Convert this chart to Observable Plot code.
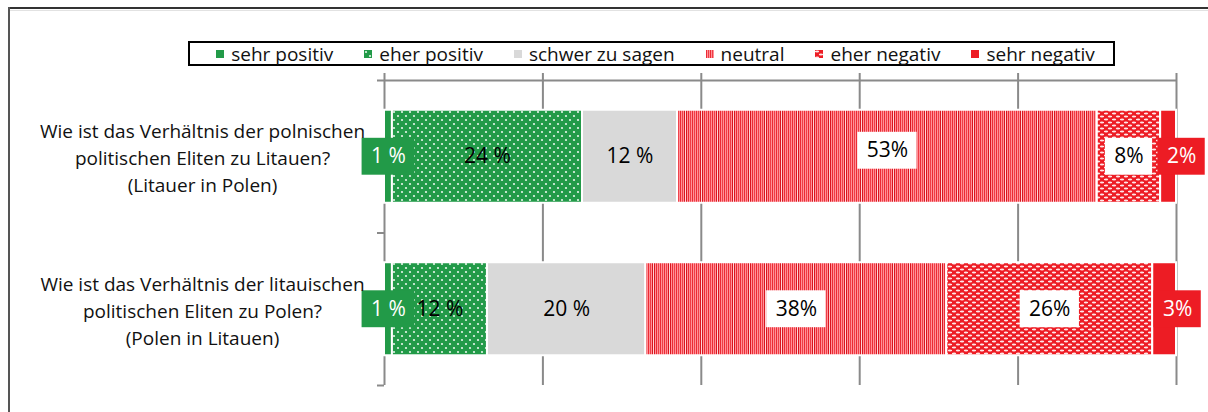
<!DOCTYPE html>
<html>
<head>
<meta charset="utf-8">
<script src="https://cdn.jsdelivr.net/npm/d3@7"></script>
<script src="https://cdn.jsdelivr.net/npm/@observablehq/plot@0.6"></script>
<style>
  html, body { margin: 0; background: #fff; overflow: hidden; }
  #wrap { position: relative; width: 1208px; height: 412px; overflow: hidden; font-family: "Open Sans", sans-serif; }
  #lineTop { position: absolute; left: 8px; top: 7px; width: 1200px; height: 2px; background: #333; }
  #lineTop2 { position: absolute; left: 10px; top: 10px; width: 1198px; height: 1px; background: #e2e2e2; }
  #lineLeft { position: absolute; left: 8px; top: 7px; width: 2px; height: 405px; background: #555; }
  #legend { position: absolute; left: 188px; top: 41px; width: 927px; height: 25px; box-sizing: border-box; border: 2px solid #000;
            display: flex; align-items: center; justify-content: center; gap: 31px; padding-left: 8px;
            font-size: 19px; color: #111; line-height: 20px; }
  #legend .item { display: flex; align-items: center; gap: 7px; white-space: nowrap; }
  #legend svg { display: block; }
  #chart { position: absolute; left: 0; top: 70px; }
  #defs { position: absolute; left: 0; top: 0; width: 0; height: 0; }
</style>
</head>
<body>
<div id="wrap">
  <svg id="defs" width="0" height="0">
    <defs>
      <pattern id="pDots" width="8" height="8" patternUnits="userSpaceOnUse">
        <rect width="8" height="8" fill="#229A48"/>
        <circle cx="2" cy="2" r="1.1" fill="#e6f5ea"/>
        <circle cx="6" cy="6" r="1.1" fill="#e6f5ea"/>
      </pattern>
      <pattern id="pStripes" width="16" height="4" patternUnits="userSpaceOnUse">
        <rect width="16" height="4" fill="#FF9298"/>
        <rect x="0" width="1" height="4" fill="#EC2A34"/>
        <rect x="2" width="1" height="4" fill="#EF3D46"/>
        <rect x="4" width="1" height="4" fill="#EC2A34"/>
        <rect x="6" width="1" height="4" fill="#EF3D46"/>
        <rect x="8" width="1" height="4" fill="#EC2A34"/>
        <rect x="10" width="1" height="4" fill="#EF3D46"/>
        <rect x="12" width="1" height="4" fill="#D9151F"/>
        <rect x="13" width="1" height="4" fill="#FFD3D6"/>
        <rect x="14" width="1" height="4" fill="#D9151F"/>
      </pattern>
      <pattern id="pDash" width="8" height="6" patternUnits="userSpaceOnUse">
        <rect width="8" height="6" fill="#ED1C24"/>
        <ellipse cx="2" cy="1.5" rx="2.2" ry="1" fill="#ffe8e9"/>
        <ellipse cx="6" cy="4.5" rx="2.2" ry="1" fill="#ffe8e9"/>
      </pattern>
    </defs>
  </svg>
  <div id="lineTop"></div>
  <div id="lineTop2"></div>
  <div id="lineLeft"></div>
  <div id="legend"></div>
  <div id="chart"></div>
</div>
<script>
// ---- data ----
const categories = ["sehr positiv", "eher positiv", "schwer zu sagen", "neutral", "eher negativ", "sehr negativ"];
const questions = [
  "Wie ist das Verhältnis der polnischen\npolitischen Eliten zu Litauen?\n(Litauer in Polen)",
  "Wie ist das Verhältnis der litauischen\npolitischen Eliten zu Polen?\n(Polen in Litauen)"
];
const valuesQ1 = [1, 24, 12, 53, 8, 2];
const valuesQ2 = [1, 12, 20, 38, 26, 3];
const labelsQ1 = ["1 %", "24 %", "12 %", "53%", "8%", "2%"];
const labelsQ2 = ["1 %", "12 %", "20 %", "38%", "26%", "3%"];
const gridTicks = [0, 20, 40, 60, 80, 100];

// ---- styles ----
const fills = ["#229A48", "url(#pDots)", "#D9D9D9", "url(#pStripes)", "url(#pDash)", "#ED1C24"];
const labelStyle = ["green", "plain", "plain", "white", "white", "red"];
const boxFill = {green: "#229A48", white: "#ffffff", red: "#ED1C24"};
const textFill = {green: "#ffffff", plain: "#000000", white: "#000000", red: "#ffffff"};

const W = 1208, H = 342, ML = 384, MR = 32, MT = 10, MB = 27;
const pxPerPct = (W - ML - MR) / 100;
const pxPerRow = (H - MT - MB) / 2;
const labelFont = 21;

function textWidth(s) {
  let w = 0;
  for (const ch of s) w += ch === "%" ? 0.823 : ch === " " ? 0.26 : 0.572;
  return w * labelFont;
}
// small label nudges seen in the reference (pixels)
function nudgeX(q, ci) { return ci === 5 ? 13 : 0; }
function nudgeY(q, ci) { return (q === 0 && ci === 3) ? -6 : 0; }

const rows = [];
[[valuesQ1, labelsQ1], [valuesQ2, labelsQ2]].forEach(([vals, labs], q) => {
  const ends = d3.cumsum(vals);
  vals.forEach((v, ci) => {
    const x1 = ends[ci] - v, x2 = ends[ci];
    const cx = (x1 + x2) / 2 + nudgeX(q, ci) / pxPerPct;
    const cy = q + nudgeY(q, ci) / pxPerRow;
    const bw = (textWidth(labs[ci]) + 18) / pxPerPct;
    rows.push({q, ci, cat: categories[ci], v, x1, x2, cx, cy, bw, label: labs[ci], style: labelStyle[ci]});
  });
});

const half = 0.305, boxHalf = 0.121;
const gridColor = "#8a8a8a";

const marks = [
  Plot.ruleX(gridTicks, {y1: -0.5, y2: 1.5, insetTop: -7, stroke: gridColor, strokeWidth: 2}),
  Plot.ruleY([-0.5], {x1: 0, x2: 100, insetLeft: -7, stroke: gridColor, strokeWidth: 2}),
  Plot.ruleY([0.5, 1.5], {x1: 0, x2: 0, insetLeft: -7, stroke: gridColor, strokeWidth: 2}),
  ...categories.map((c, ci) => Plot.rect(rows.filter(r => r.ci === ci), {
    x1: "x1", x2: "x2", y1: r => r.q - half, y2: r => r.q + half,
    fill: fills[ci], stroke: "#fff", strokeWidth: 2
  })),
  ...Object.keys(boxFill).map(st => Plot.rect(rows.filter(r => r.style === st), {
    x1: r => r.cx - r.bw / 2, x2: r => r.cx + r.bw / 2,
    y1: r => r.cy - boxHalf, y2: r => r.cy + boxHalf,
    fill: boxFill[st]
  })),
  ...Object.keys(textFill).map(st => Plot.text(rows.filter(r => r.style === st), {
    x: "cx", y: "cy", text: "label", fill: textFill[st], fontSize: labelFont
  })),
  Plot.text(questions, {
    frameAnchor: "left", y: (d, i) => i, text: d => d, textAnchor: "middle",
    dx: -182, fontSize: 19, lineHeight: 1.42, fill: "#111"
  })
];

const chart = Plot.plot({
  width: W, height: H,
  marginLeft: ML, marginRight: MR, marginTop: MT, marginBottom: MB,
  x: {domain: [0, 100], axis: null},
  y: {domain: [-0.5, 1.5], reverse: true, axis: null},
  style: {fontFamily: "'Open Sans', sans-serif", background: "transparent", overflow: "visible"},
  marks
});
document.getElementById("chart").appendChild(chart);

// ---- legend ----
const legend = d3.select("#legend");
categories.forEach((c, i) => {
  const item = legend.append("div").attr("class", "item");
  item.append("svg").attr("width", 8).attr("height", 8)
    .append("rect").attr("width", 8).attr("height", 8).attr("fill", fills[i]);
  item.append("span").text(c);
});
</script>
</body>
</html>
